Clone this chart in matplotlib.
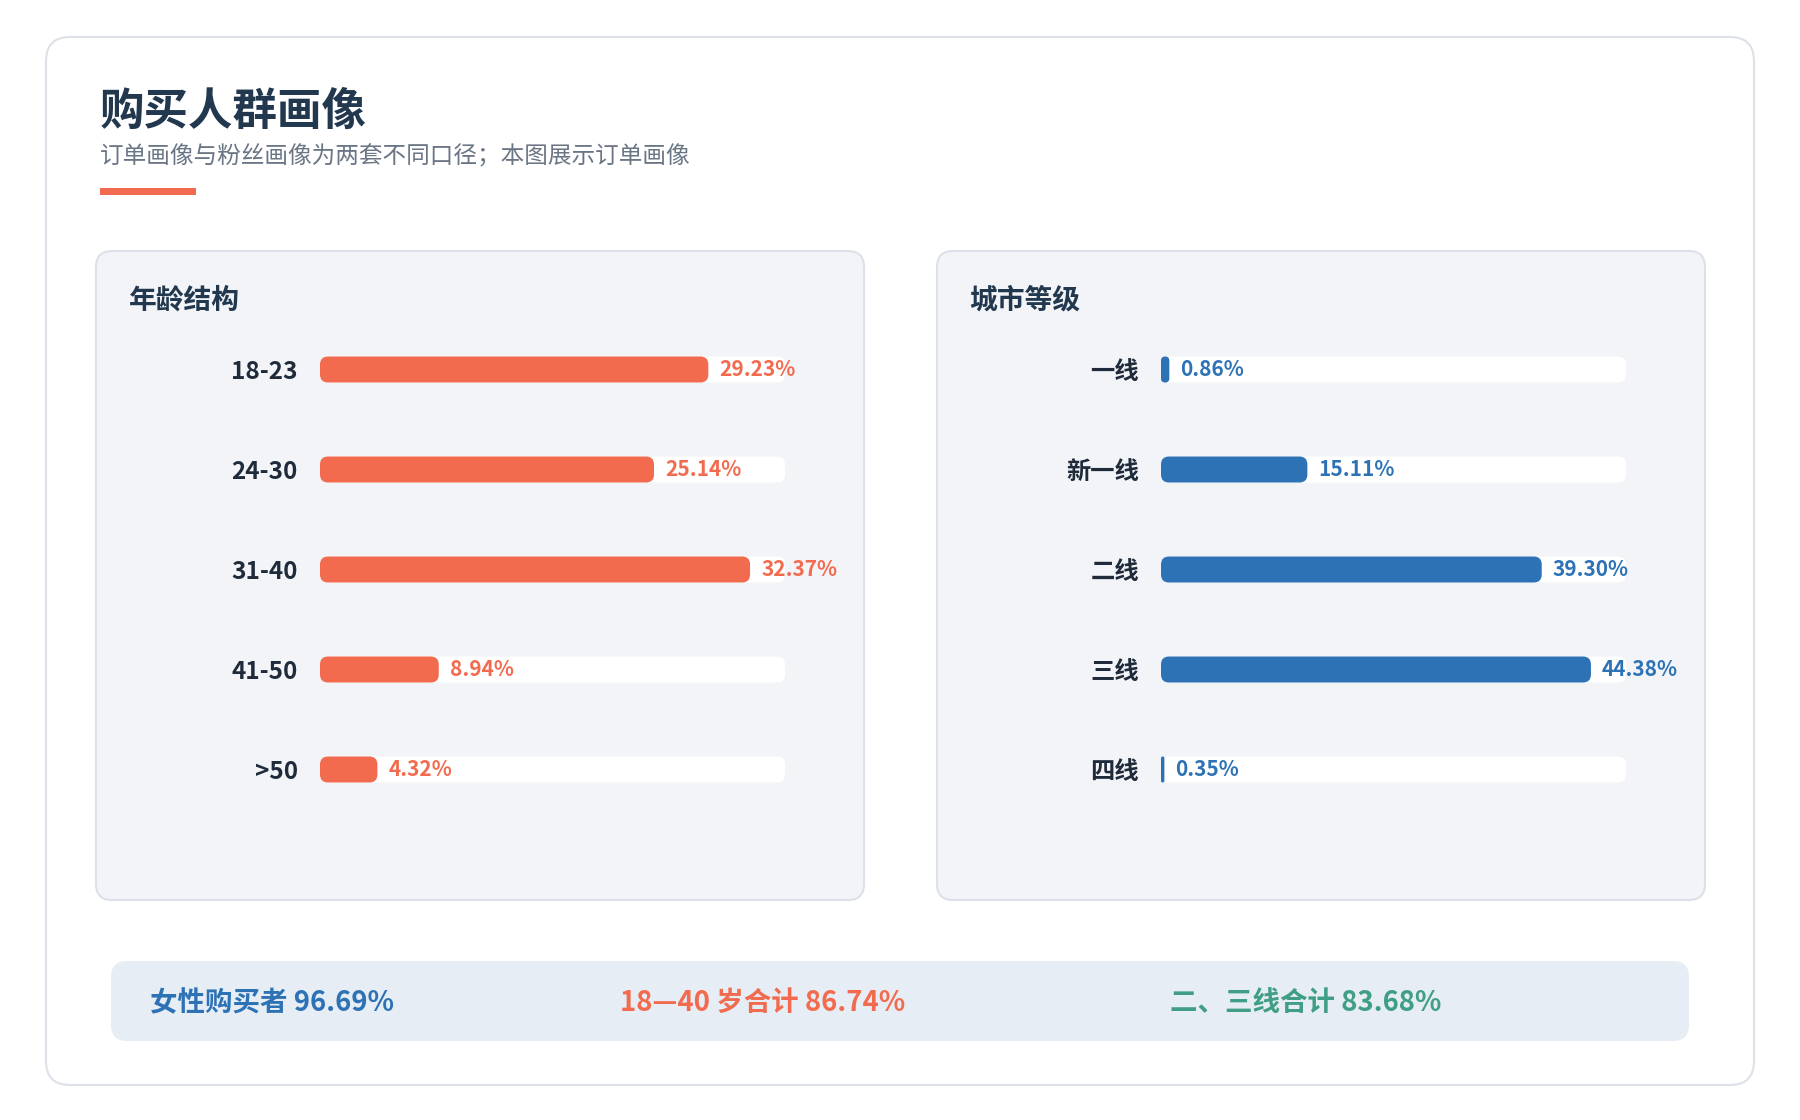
import matplotlib
matplotlib.use("Agg")
import matplotlib.pyplot as plt
from matplotlib.patches import FancyBboxPatch, Rectangle

plt.rcParams['font.family'] = ['Noto Sans CJK SC', 'DejaVu Sans']

# data
AGE_GROUPS = ["18-23", "24-30", "31-40", "41-50", ">50"]
AGE_SHARE = [29.23, 25.14, 32.37, 8.94, 4.32]
CITY_TIERS = ["一线", "新一线", "二线", "三线", "四线"]
CITY_SHARE = [0.86, 15.11, 39.30, 44.38, 0.35]
AGE_MAX = 35
CITY_MAX = 48
SUMMARY = ["女性购买者 96.69%", "18—40 岁合计 86.74%", "二、三线合计 83.68%"]

ORANGE = "#f26b4f"
BLUE = "#2e72b6"
GREEN = "#3f9e84"
NAVY = "#22384f"
DARK = "#1f2b3a"

W, H = 1800, 1120
fig = plt.figure(figsize=(W / 100, H / 100), dpi=100)
fig.patch.set_facecolor("white")

# background canvas in pixel units
bg = fig.add_axes([0, 0, 1, 1])
bg.set_xlim(0, W)
bg.set_ylim(H, 0)
bg.axis("off")


def card(ax, x, y, w, h, r, fc, ec, lw=1.5):
    ax.add_patch(FancyBboxPatch((x, y), w, h, boxstyle=f"round,pad=0,rounding_size={r}",
                                fc=fc, ec=ec, lw=lw))


card(bg, 46, 37, 1708, 1048, 24, "white", "#dde1e8")
bg.text(100, 112, "购买人群画像", fontsize=32, fontweight="heavy", color=NAVY, va="center")
bg.text(100, 157, "订单画像与粉丝画像为两套不同口径；本图展示订单画像", fontsize=17,
        color="#6b7685", va="center")
bg.add_patch(Rectangle((100, 188), 96, 7, color=ORANGE, lw=0))

card(bg, 96, 251, 768, 649, 16, "#f2f4f8", "#dce1e9")
card(bg, 937, 251, 768, 649, 16, "#f2f4f8", "#dce1e9")
bg.text(129, 301, "年龄结构", fontsize=20, fontweight="bold", color=NAVY, va="center")
bg.text(969, 301, "城市等级", fontsize=20, fontweight="bold", color=NAVY, va="center")

card(bg, 111, 961, 1578, 80, 16, "#e6edf5", "none", lw=0)
for x, txt, col in zip([150, 620, 1170], SUMMARY, [BLUE, ORANGE, GREEN]):
    bg.text(x, 1003, txt, fontsize=19.8, fontweight="bold", color=col, va="center")


def rounded_bars(ax, y, values, height, color, xmax, radius_px=8):
    # width and height of the axes in pixels
    pos = ax.get_position()
    wpx, hpx = pos.width * W, pos.height * H
    ylo, yhi = ax.get_ylim()
    xu = xmax / wpx
    yu = abs(yhi - ylo) / hpx
    bars = ax.barh(y, values, height=height, color=color)
    for b in bars:
        bx, by = b.get_x(), b.get_y()
        bw, bh = b.get_width(), b.get_height()
        r = min(radius_px * xu, bw / 2)
        b.set_visible(False)
        ax.add_patch(FancyBboxPatch((bx, by), bw, bh,
                                    boxstyle=f"round,pad=0,rounding_size={r}",
                                    mutation_aspect=yu / xu, fc=color, ec="none",
                                    zorder=b.get_zorder()))


def bar_panel(left_px, labels, values, xmax, color):
    top, bottom = 319.5, 819.5
    ax = fig.add_axes([left_px / W, 1 - bottom / H, 465 / W, (bottom - top) / H])
    ax.set_xlim(0, xmax)
    ax.set_ylim(len(labels) - 0.5, -0.5)
    ax.patch.set_alpha(0)
    for s in ax.spines.values():
        s.set_visible(False)
    ys = list(range(len(labels)))
    rounded_bars(ax, ys, [xmax] * len(labels), 0.26, "white", xmax)
    rounded_bars(ax, ys, values, 0.26, color, xmax)
    ax.set_xticks([])
    ax.set_yticks(ys, labels)
    ax.tick_params(axis="y", length=0, pad=16, labelsize=17.5, labelcolor=DARK)
    for t in ax.get_yticklabels():
        t.set_fontweight("bold")
    for yv, v in zip(ys, values):
        ax.annotate(f"{v:.2f}%", (v, yv), xytext=(8, 0), textcoords="offset points",
                    va="center", ha="left", fontsize=15, fontweight="bold",
                    color=color, annotation_clip=False)
    return ax


bar_panel(320, AGE_GROUPS, AGE_SHARE, AGE_MAX, ORANGE)
bar_panel(1161, CITY_TIERS, CITY_SHARE, CITY_MAX, BLUE)

fig.savefig("out.png", dpi=100)
